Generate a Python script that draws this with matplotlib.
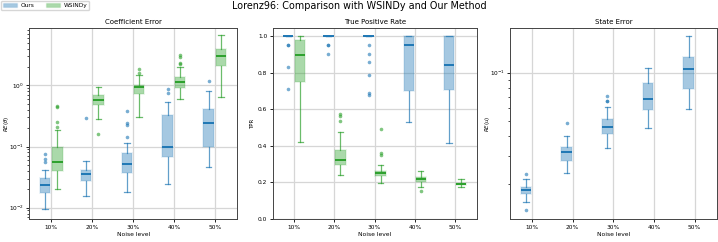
import numpy as np
import matplotlib.pyplot as plt
from matplotlib.patches import Patch
from matplotlib.colors import to_rgba
from matplotlib.ticker import NullFormatter

noise_levels = ['10%', '20%', '30%', '40%', '50%']

# Coefficient error RE(theta) - box stats
coef_ours_med = [0.0235, 0.036, 0.051, 0.098, 0.245]
coef_ours_q1 = [0.0176, 0.027, 0.0364, 0.0673, 0.0993]
coef_ours_q3 = [0.0309, 0.0413, 0.0773, 0.331, 0.416]
coef_ours_lo = [0.0094, 0.0157, 0.018, 0.024, 0.0468]
coef_ours_hi = [0.0408, 0.0587, 0.1155, 0.527, 0.818]
coef_ours_fl = [[0.0754, 0.0632, 0.0558], [0.289], [0.38, 0.239, 0.227, 0.143],
                [0.87, 0.74], [1.16]]

coef_wsindy_med = [0.0565, 0.575, 0.93, 1.12, 3.02]
coef_wsindy_q1 = [0.0403, 0.471, 0.72, 0.916, 2.07]
coef_wsindy_q3 = [0.0993, 0.687, 1.03, 1.35, 3.88]
coef_wsindy_lo = [0.020, 0.278, 0.303, 0.59, 0.637]
coef_wsindy_hi = [0.184, 0.94, 1.46, 2.0, 6.57]
coef_wsindy_fl = [[0.465, 0.448, 0.255, 0.208], [0.158], [1.85, 1.57],
                  [3.13, 2.87, 2.35, 2.2], []]

# True positive rate
tpr_ours_med = [1.0, 1.0, 1.0, 0.951, 0.845]
tpr_ours_q1 = [1.0, 1.0, 1.0, 0.703, 0.704]
tpr_ours_q3 = [1.0, 1.0, 1.0, 1.0, 1.0]
tpr_ours_lo = [1.0, 1.0, 1.0, 0.533, 0.414]
tpr_ours_hi = [1.0, 1.0, 1.0, 1.0, 1.0]
tpr_ours_fl = [[0.952, 0.952, 0.833, 0.714], [0.952, 0.952, 0.905],
               [0.952, 0.905, 0.862, 0.79, 0.692, 0.681], [], []]

tpr_wsindy_med = [0.898, 0.321, 0.25, 0.219, 0.193]
tpr_wsindy_q1 = [0.752, 0.297, 0.234, 0.203, 0.184]
tpr_wsindy_q3 = [0.982, 0.38, 0.263, 0.232, 0.197]
tpr_wsindy_lo = [0.4215, 0.241, 0.197, 0.177, 0.175]
tpr_wsindy_hi = [1.0, 0.474, 0.294, 0.261, 0.217]
tpr_wsindy_fl = [[], [0.575, 0.566, 0.535], [0.4945, 0.361, 0.352], [0.155], []]

# State error RE(u), only our method
state_ours_med = [0.01853, 0.032, 0.0456, 0.0689, 0.105]
state_ours_q1 = [0.0174, 0.028, 0.0416, 0.058, 0.079]
state_ours_q3 = [0.0192, 0.0341, 0.0512, 0.0858, 0.125]
state_ours_lo = [0.01545, 0.0235, 0.034, 0.0451, 0.0596]
state_ours_hi = [0.0217, 0.0401, 0.0608, 0.1074, 0.170]
state_ours_fl = [[0.0232, 0.0139], [0.0485], [0.0711, 0.0665, 0.0665], [], []]

c_ours = '#1f77b4'
c_wsindy = '#2ca02c'


def draw(ax, med, q1, q3, lo, hi, fl, offset, color):
    stats = [dict(med=m, q1=a, q3=b, whislo=l, whishi=h, fliers=f)
             for m, a, b, l, h, f in zip(med, q1, q3, lo, hi, fl)]
    pos = np.arange(len(stats)) + offset
    ax.bxp(stats, positions=pos, widths=0.26, patch_artist=True, manage_ticks=False,
           boxprops=dict(facecolor=to_rgba(color, 0.4), edgecolor=to_rgba(color, 0.12), linewidth=1.2),
           medianprops=dict(color=color, linewidth=1.4),
           whiskerprops=dict(color=to_rgba(color, 0.7), linewidth=0.9),
           capprops=dict(color=to_rgba(color, 0.7), linewidth=0.9),
           flierprops=dict(marker='o', markersize=2.6, markerfacecolor=to_rgba(color, 0.6),
                           markeredgecolor='none'))


fig = plt.figure(figsize=(7.18, 2.42), dpi=100)
rects = [[0.041, 0.095, 0.289, 0.789],
         [0.380, 0.095, 0.284, 0.789],
         [0.711, 0.095, 0.287, 0.789]]
axes = [fig.add_axes(r) for r in rects]

draw(axes[0], coef_ours_med, coef_ours_q1, coef_ours_q3, coef_ours_lo, coef_ours_hi, coef_ours_fl, -0.15, c_ours)
draw(axes[0], coef_wsindy_med, coef_wsindy_q1, coef_wsindy_q3, coef_wsindy_lo, coef_wsindy_hi, coef_wsindy_fl, 0.15, c_wsindy)
draw(axes[1], tpr_ours_med, tpr_ours_q1, tpr_ours_q3, tpr_ours_lo, tpr_ours_hi, tpr_ours_fl, -0.15, c_ours)
draw(axes[1], tpr_wsindy_med, tpr_wsindy_q1, tpr_wsindy_q3, tpr_wsindy_lo, tpr_wsindy_hi, tpr_wsindy_fl, 0.15, c_wsindy)
draw(axes[2], state_ours_med, state_ours_q1, state_ours_q3, state_ours_lo, state_ours_hi, state_ours_fl, -0.15, c_ours)

titles = ['Coefficient Error', 'True Positive Rate', 'State Error']
ylabels = [r'$RE(\theta)$', 'TPR', r'$RE(u)$']

axes[0].set_yscale('log')
axes[0].set_ylim(0.00653, 8.65)
axes[1].set_ylim(0, 1.045)
axes[2].set_yscale('log')
axes[2].set_ylim(0.01216, 0.19)
axes[2].yaxis.set_minor_formatter(NullFormatter())

for ax, t, yl in zip(axes, titles, ylabels):
    ax.set_xlim(-0.53, 4.54)
    ax.set_xticks(range(len(noise_levels)))
    ax.set_xticklabels(noise_levels)
    ax.set_title(t, fontsize=5.0, pad=3)
    ax.set_xlabel('Noise level', fontsize=4.3, labelpad=1.5)
    ax.set_ylabel(yl, fontsize=4.0)
    ax.yaxis.set_label_coords(-0.088, 0.5)
    ax.tick_params(axis='both', which='major', labelsize=4.2, length=2.5, width=0.6, pad=1.5)
    ax.tick_params(axis='both', which='minor', length=1.5, width=0.5)
    ax.grid(True, which='major', color='#d6d6d6', linewidth=0.9)
    ax.set_axisbelow(True)
    for s in ax.spines.values():
        s.set_linewidth(0.7)
        s.set_color('#444444')

fig.suptitle('Lorenz96: Comparison with WSINDy and Our Method', fontsize=6.9, y=0.995)

handles = [Patch(facecolor=to_rgba(c_ours, 0.4), edgecolor=to_rgba(c_ours, 0.12), label='Ours'),
           Patch(facecolor=to_rgba(c_wsindy, 0.4), edgecolor=to_rgba(c_wsindy, 0.12), label='WSINDy')]
fig.legend(handles=handles, loc='upper left', bbox_to_anchor=(0.0, 1.0), ncol=2,
           fontsize=4.2, frameon=True, borderpad=0.35, borderaxespad=0.15, handlelength=2.4,
           handletextpad=0.6, columnspacing=2.0, fancybox=True, edgecolor='#cccccc')

fig.savefig('out.png', dpi=100)
